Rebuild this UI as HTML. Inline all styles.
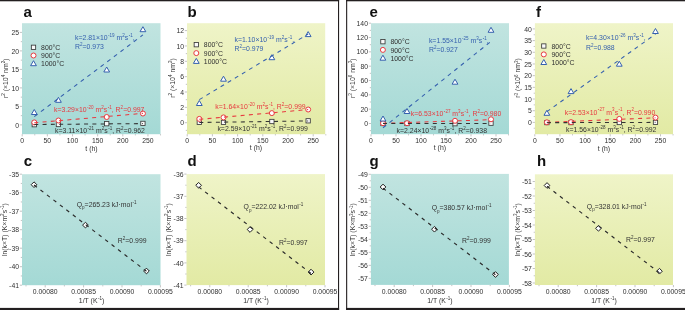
<!DOCTYPE html>
<html><head><meta charset="utf-8"><style>
html,body{margin:0;padding:0;background:#fff;}
svg{display:block;font-family:"Liberation Sans", sans-serif;will-change:transform;filter:blur(0.3px);}
</style></head><body>
<svg width="685" height="310" viewBox="0 0 685 310">
<defs></defs>
<linearGradient id="ga" x1="0" y1="0" x2="0" y2="1"><stop offset="0" stop-color="#c1e4e0"/><stop offset="1" stop-color="#a4d9d5"/></linearGradient>
<rect x="22" y="23.2" width="138.50" height="111.00" fill="url(#ga)"/>
<line x1="19.80" y1="124.90" x2="22.00" y2="124.90" stroke="#9a9a9a" stroke-width="0.6"/>
<text x="19.00" y="127.37" font-size="6.85" fill="#303030" text-anchor="end" transform="matrix(1 0 0 1.06 0 -7.494)">0</text>
<line x1="19.80" y1="106.40" x2="22.00" y2="106.40" stroke="#9a9a9a" stroke-width="0.6"/>
<text x="19.00" y="108.87" font-size="6.85" fill="#303030" text-anchor="end" transform="matrix(1 0 0 1.06 0 -6.384)">5</text>
<line x1="19.80" y1="87.90" x2="22.00" y2="87.90" stroke="#9a9a9a" stroke-width="0.6"/>
<text x="19.00" y="90.37" font-size="6.85" fill="#303030" text-anchor="end" transform="matrix(1 0 0 1.06 0 -5.274)">10</text>
<line x1="19.80" y1="69.40" x2="22.00" y2="69.40" stroke="#9a9a9a" stroke-width="0.6"/>
<text x="19.00" y="71.87" font-size="6.85" fill="#303030" text-anchor="end" transform="matrix(1 0 0 1.06 0 -4.164)">15</text>
<line x1="19.80" y1="50.90" x2="22.00" y2="50.90" stroke="#9a9a9a" stroke-width="0.6"/>
<text x="19.00" y="53.37" font-size="6.85" fill="#303030" text-anchor="end" transform="matrix(1 0 0 1.06 0 -3.054)">20</text>
<line x1="19.80" y1="32.40" x2="22.00" y2="32.40" stroke="#9a9a9a" stroke-width="0.6"/>
<text x="19.00" y="34.87" font-size="6.85" fill="#303030" text-anchor="end" transform="matrix(1 0 0 1.06 0 -1.944)">25</text>
<line x1="20.80" y1="115.65" x2="22.00" y2="115.65" stroke="#9a9a9a" stroke-width="0.6"/>
<line x1="20.80" y1="97.15" x2="22.00" y2="97.15" stroke="#9a9a9a" stroke-width="0.6"/>
<line x1="20.80" y1="78.65" x2="22.00" y2="78.65" stroke="#9a9a9a" stroke-width="0.6"/>
<line x1="20.80" y1="60.15" x2="22.00" y2="60.15" stroke="#9a9a9a" stroke-width="0.6"/>
<line x1="20.80" y1="41.65" x2="22.00" y2="41.65" stroke="#9a9a9a" stroke-width="0.6"/>
<line x1="22.20" y1="134.20" x2="22.20" y2="136.40" stroke="#9a9a9a" stroke-width="0.6"/>
<text x="22.20" y="143.20" font-size="6.85" fill="#303030" text-anchor="middle" transform="matrix(1 0 0 1.06 0 -8.444)">0</text>
<line x1="47.35" y1="134.20" x2="47.35" y2="136.40" stroke="#9a9a9a" stroke-width="0.6"/>
<text x="47.35" y="143.20" font-size="6.85" fill="#303030" text-anchor="middle" transform="matrix(1 0 0 1.06 0 -8.444)">50</text>
<line x1="72.50" y1="134.20" x2="72.50" y2="136.40" stroke="#9a9a9a" stroke-width="0.6"/>
<text x="72.50" y="143.20" font-size="6.85" fill="#303030" text-anchor="middle" transform="matrix(1 0 0 1.06 0 -8.444)">100</text>
<line x1="97.65" y1="134.20" x2="97.65" y2="136.40" stroke="#9a9a9a" stroke-width="0.6"/>
<text x="97.65" y="143.20" font-size="6.85" fill="#303030" text-anchor="middle" transform="matrix(1 0 0 1.06 0 -8.444)">150</text>
<line x1="122.80" y1="134.20" x2="122.80" y2="136.40" stroke="#9a9a9a" stroke-width="0.6"/>
<text x="122.80" y="143.20" font-size="6.85" fill="#303030" text-anchor="middle" transform="matrix(1 0 0 1.06 0 -8.444)">200</text>
<line x1="147.95" y1="134.20" x2="147.95" y2="136.40" stroke="#9a9a9a" stroke-width="0.6"/>
<text x="147.95" y="143.20" font-size="6.85" fill="#303030" text-anchor="middle" transform="matrix(1 0 0 1.06 0 -8.444)">250</text>
<line x1="34.77" y1="134.20" x2="34.77" y2="135.40" stroke="#9a9a9a" stroke-width="0.6"/>
<line x1="59.92" y1="134.20" x2="59.92" y2="135.40" stroke="#9a9a9a" stroke-width="0.6"/>
<line x1="85.08" y1="134.20" x2="85.08" y2="135.40" stroke="#9a9a9a" stroke-width="0.6"/>
<line x1="110.23" y1="134.20" x2="110.23" y2="135.40" stroke="#9a9a9a" stroke-width="0.6"/>
<line x1="135.38" y1="134.20" x2="135.38" y2="135.40" stroke="#9a9a9a" stroke-width="0.6"/>
<line x1="160.52" y1="134.20" x2="160.52" y2="135.40" stroke="#9a9a9a" stroke-width="0.6"/>
<text x="91.50" y="150.80" font-size="6.9" fill="#303030" text-anchor="middle" transform="matrix(1 0 0 1.06 0 -8.899)"><tspan dy="-0.00">t (h)</tspan></text>
<text x="0.00" y="0.00" font-size="6.9" fill="#303030" text-anchor="middle" transform="translate(7.60,78.30) rotate(-90)"><tspan dy="-0.00">r</tspan><tspan dy="-2.90" font-size="4.55">2</tspan><tspan dy="2.90"> (×10</tspan><tspan dy="-2.90" font-size="4.55">4</tspan><tspan dy="2.90"> nm</tspan><tspan dy="-2.90" font-size="4.55">2</tspan><tspan dy="2.90">)</tspan></text>
<text x="23.4" y="16.8" font-size="15.0" font-weight="bold" fill="#111">a</text>
<rect x="32.12" y="122.55" width="4.3" height="4.3" fill="#fafafa" stroke="#3a3a3a" stroke-width="0.85"/>
<rect x="56.27" y="122.35" width="4.3" height="4.3" fill="#fafafa" stroke="#3a3a3a" stroke-width="0.85"/>
<rect x="104.55" y="121.55" width="4.3" height="4.3" fill="#fafafa" stroke="#3a3a3a" stroke-width="0.85"/>
<rect x="140.77" y="121.25" width="4.3" height="4.3" fill="#fafafa" stroke="#3a3a3a" stroke-width="0.85"/>
<circle cx="34.27" cy="122.40" r="2.5" fill="#fff" stroke="#e8393f" stroke-width="1.0"/>
<circle cx="58.42" cy="120.50" r="2.5" fill="#fff" stroke="#e8393f" stroke-width="1.0"/>
<circle cx="106.70" cy="117.00" r="2.5" fill="#fff" stroke="#e8393f" stroke-width="1.0"/>
<circle cx="142.92" cy="113.50" r="2.5" fill="#fff" stroke="#e8393f" stroke-width="1.0"/>
<path d="M34.27 109.50 L37.17 114.50 L31.37 114.50 Z" fill="#fff" stroke="#3560ae" stroke-width="1.0" stroke-linejoin="miter"/>
<path d="M58.42 97.30 L61.32 102.30 L55.52 102.30 Z" fill="#fff" stroke="#3560ae" stroke-width="1.0" stroke-linejoin="miter"/>
<path d="M106.70 67.00 L109.60 72.00 L103.80 72.00 Z" fill="#fff" stroke="#3560ae" stroke-width="1.0" stroke-linejoin="miter"/>
<path d="M142.92 26.70 L145.82 31.70 L140.02 31.70 Z" fill="#fff" stroke="#3560ae" stroke-width="1.0" stroke-linejoin="miter"/>
<line x1="34.27" y1="122.82" x2="142.92" y2="113.36" stroke="#e8393f" stroke-width="1.05" stroke-dasharray="4 4.3" stroke-dashoffset="0"/>
<line x1="34.27" y1="124.50" x2="142.92" y2="123.60" stroke="#333333" stroke-width="1.05" stroke-dasharray="4 4.3" stroke-dashoffset="0"/>
<line x1="34.27" y1="116.61" x2="142.92" y2="34.90" stroke="#3560ae" stroke-width="1.05" stroke-dasharray="4 4.3" stroke-dashoffset="0"/>
<rect x="31.35" y="45.15" width="4.3" height="4.3" fill="#fafafa" stroke="#3a3a3a" stroke-width="0.85"/>
<circle cx="33.50" cy="55.50" r="2.5" fill="#fff" stroke="#e8393f" stroke-width="1.0"/>
<path d="M33.50 60.70 L36.40 65.70 L30.60 65.70 Z" fill="#fff" stroke="#3560ae" stroke-width="1.0" stroke-linejoin="miter"/>
<text x="41.1" y="49.80" font-size="6.9" fill="#303030" transform="matrix(1 0 0 1.06 0 -2.839)">800°C</text>
<text x="41.1" y="58.00" font-size="6.9" fill="#303030" transform="matrix(1 0 0 1.06 0 -3.331)">900°C</text>
<text x="41.1" y="66.10" font-size="6.9" fill="#303030" transform="matrix(1 0 0 1.06 0 -3.817)">1000°C</text>
<text x="75.00" y="39.80" font-size="6.9" fill="#3560ae" text-anchor="start" transform="matrix(1 0 0 1.06 0 -2.239)"><tspan dy="-0.00">k=2.81×10</tspan><tspan dy="-2.90" dx="0.45" font-size="4.55"><tspan font-weight="bold">-</tspan>19</tspan><tspan dy="2.90"> m</tspan><tspan dy="-2.90" font-size="4.55">2</tspan><tspan dy="2.90">s</tspan><tspan dy="-2.90" dx="0.45" font-size="4.55"><tspan font-weight="bold">-</tspan>1</tspan><tspan dy="2.90">,</tspan></text>
<text x="75.00" y="48.60" font-size="6.9" fill="#3560ae" text-anchor="start" transform="matrix(1 0 0 1.06 0 -2.767)"><tspan dy="-0.00">R</tspan><tspan dy="-2.90" font-size="4.55">2</tspan><tspan dy="2.90">=0.973</tspan></text>
<text x="54.00" y="111.50" font-size="6.9" fill="#e8393f" text-anchor="start" transform="matrix(1 0 0 1.06 0 -6.541)"><tspan dy="-0.00">k=3.29×10</tspan><tspan dy="-2.90" dx="0.45" font-size="4.55"><tspan font-weight="bold">-</tspan>20</tspan><tspan dy="2.90"> m</tspan><tspan dy="-2.90" font-size="4.55">2</tspan><tspan dy="2.90">s</tspan><tspan dy="-2.90" dx="0.45" font-size="4.55"><tspan font-weight="bold">-</tspan>1</tspan><tspan dy="2.90">, R</tspan><tspan dy="-2.90" font-size="4.55">2</tspan><tspan dy="2.90">=0.997</tspan></text>
<text x="55.00" y="132.50" font-size="6.9" fill="#333333" text-anchor="start" transform="matrix(1 0 0 1.06 0 -7.801)"><tspan dy="-0.00">k=3.11×10</tspan><tspan dy="-2.90" dx="0.45" font-size="4.55"><tspan font-weight="bold">-</tspan>21</tspan><tspan dy="2.90"> m</tspan><tspan dy="-2.90" font-size="4.55">2</tspan><tspan dy="2.90">s</tspan><tspan dy="-2.90" dx="0.45" font-size="4.55"><tspan font-weight="bold">-</tspan>1</tspan><tspan dy="2.90">, R</tspan><tspan dy="-2.90" font-size="4.55">2</tspan><tspan dy="2.90">=0.962</tspan></text>
<linearGradient id="gb" x1="0" y1="0" x2="0" y2="1"><stop offset="0" stop-color="#eff4c8"/><stop offset="1" stop-color="#e2eaa4"/></linearGradient>
<rect x="187" y="23.2" width="138.20" height="111.00" fill="url(#gb)"/>
<line x1="184.80" y1="122.70" x2="187.00" y2="122.70" stroke="#9a9a9a" stroke-width="0.6"/>
<text x="184.00" y="125.17" font-size="6.85" fill="#303030" text-anchor="end" transform="matrix(1 0 0 1.06 0 -7.362)">0</text>
<line x1="184.80" y1="107.35" x2="187.00" y2="107.35" stroke="#9a9a9a" stroke-width="0.6"/>
<text x="184.00" y="109.82" font-size="6.85" fill="#303030" text-anchor="end" transform="matrix(1 0 0 1.06 0 -6.441)">2</text>
<line x1="184.80" y1="92.00" x2="187.00" y2="92.00" stroke="#9a9a9a" stroke-width="0.6"/>
<text x="184.00" y="94.47" font-size="6.85" fill="#303030" text-anchor="end" transform="matrix(1 0 0 1.06 0 -5.520)">4</text>
<line x1="184.80" y1="76.65" x2="187.00" y2="76.65" stroke="#9a9a9a" stroke-width="0.6"/>
<text x="184.00" y="79.12" font-size="6.85" fill="#303030" text-anchor="end" transform="matrix(1 0 0 1.06 0 -4.599)">6</text>
<line x1="184.80" y1="61.30" x2="187.00" y2="61.30" stroke="#9a9a9a" stroke-width="0.6"/>
<text x="184.00" y="63.77" font-size="6.85" fill="#303030" text-anchor="end" transform="matrix(1 0 0 1.06 0 -3.678)">8</text>
<line x1="184.80" y1="45.95" x2="187.00" y2="45.95" stroke="#9a9a9a" stroke-width="0.6"/>
<text x="184.00" y="48.42" font-size="6.85" fill="#303030" text-anchor="end" transform="matrix(1 0 0 1.06 0 -2.757)">10</text>
<line x1="184.80" y1="30.60" x2="187.00" y2="30.60" stroke="#9a9a9a" stroke-width="0.6"/>
<text x="184.00" y="33.07" font-size="6.85" fill="#303030" text-anchor="end" transform="matrix(1 0 0 1.06 0 -1.836)">12</text>
<line x1="185.80" y1="130.38" x2="187.00" y2="130.38" stroke="#9a9a9a" stroke-width="0.6"/>
<line x1="185.80" y1="115.03" x2="187.00" y2="115.03" stroke="#9a9a9a" stroke-width="0.6"/>
<line x1="185.80" y1="99.68" x2="187.00" y2="99.68" stroke="#9a9a9a" stroke-width="0.6"/>
<line x1="185.80" y1="84.33" x2="187.00" y2="84.33" stroke="#9a9a9a" stroke-width="0.6"/>
<line x1="185.80" y1="68.97" x2="187.00" y2="68.97" stroke="#9a9a9a" stroke-width="0.6"/>
<line x1="185.80" y1="53.62" x2="187.00" y2="53.62" stroke="#9a9a9a" stroke-width="0.6"/>
<line x1="185.80" y1="38.28" x2="187.00" y2="38.28" stroke="#9a9a9a" stroke-width="0.6"/>
<line x1="187.20" y1="134.20" x2="187.20" y2="136.40" stroke="#9a9a9a" stroke-width="0.6"/>
<text x="187.20" y="143.20" font-size="6.85" fill="#303030" text-anchor="middle" transform="matrix(1 0 0 1.06 0 -8.444)">0</text>
<line x1="212.40" y1="134.20" x2="212.40" y2="136.40" stroke="#9a9a9a" stroke-width="0.6"/>
<text x="212.40" y="143.20" font-size="6.85" fill="#303030" text-anchor="middle" transform="matrix(1 0 0 1.06 0 -8.444)">50</text>
<line x1="237.60" y1="134.20" x2="237.60" y2="136.40" stroke="#9a9a9a" stroke-width="0.6"/>
<text x="237.60" y="143.20" font-size="6.85" fill="#303030" text-anchor="middle" transform="matrix(1 0 0 1.06 0 -8.444)">100</text>
<line x1="262.80" y1="134.20" x2="262.80" y2="136.40" stroke="#9a9a9a" stroke-width="0.6"/>
<text x="262.80" y="143.20" font-size="6.85" fill="#303030" text-anchor="middle" transform="matrix(1 0 0 1.06 0 -8.444)">150</text>
<line x1="288.00" y1="134.20" x2="288.00" y2="136.40" stroke="#9a9a9a" stroke-width="0.6"/>
<text x="288.00" y="143.20" font-size="6.85" fill="#303030" text-anchor="middle" transform="matrix(1 0 0 1.06 0 -8.444)">200</text>
<line x1="313.20" y1="134.20" x2="313.20" y2="136.40" stroke="#9a9a9a" stroke-width="0.6"/>
<text x="313.20" y="143.20" font-size="6.85" fill="#303030" text-anchor="middle" transform="matrix(1 0 0 1.06 0 -8.444)">250</text>
<line x1="199.80" y1="134.20" x2="199.80" y2="135.40" stroke="#9a9a9a" stroke-width="0.6"/>
<line x1="225.00" y1="134.20" x2="225.00" y2="135.40" stroke="#9a9a9a" stroke-width="0.6"/>
<line x1="250.20" y1="134.20" x2="250.20" y2="135.40" stroke="#9a9a9a" stroke-width="0.6"/>
<line x1="275.40" y1="134.20" x2="275.40" y2="135.40" stroke="#9a9a9a" stroke-width="0.6"/>
<line x1="300.60" y1="134.20" x2="300.60" y2="135.40" stroke="#9a9a9a" stroke-width="0.6"/>
<line x1="325.80" y1="134.20" x2="325.80" y2="135.40" stroke="#9a9a9a" stroke-width="0.6"/>
<text x="256.00" y="150.20" font-size="6.9" fill="#303030" text-anchor="middle" transform="matrix(1 0 0 1.06 0 -8.863)"><tspan dy="-0.00">t (h)</tspan></text>
<text x="0.00" y="0.00" font-size="6.9" fill="#303030" text-anchor="middle" transform="translate(174.90,78.00) rotate(-90)"><tspan dy="-0.00">r</tspan><tspan dy="-2.90" font-size="4.55">2</tspan><tspan dy="2.90"> (×10</tspan><tspan dy="-2.90" font-size="4.55">4</tspan><tspan dy="2.90"> nm</tspan><tspan dy="-2.90" font-size="4.55">2</tspan><tspan dy="2.90">)</tspan></text>
<text x="187.4" y="16.8" font-size="15.0" font-weight="bold" fill="#111">b</text>
<rect x="197.15" y="120.25" width="4.3" height="4.3" fill="#fafafa" stroke="#3a3a3a" stroke-width="0.85"/>
<rect x="221.34" y="120.25" width="4.3" height="4.3" fill="#fafafa" stroke="#3a3a3a" stroke-width="0.85"/>
<rect x="269.72" y="119.35" width="4.3" height="4.3" fill="#fafafa" stroke="#3a3a3a" stroke-width="0.85"/>
<rect x="306.01" y="118.65" width="4.3" height="4.3" fill="#fafafa" stroke="#3a3a3a" stroke-width="0.85"/>
<circle cx="199.30" cy="118.90" r="2.5" fill="#fff" stroke="#e8393f" stroke-width="1.0"/>
<circle cx="223.49" cy="117.40" r="2.5" fill="#fff" stroke="#e8393f" stroke-width="1.0"/>
<circle cx="271.87" cy="113.10" r="2.5" fill="#fff" stroke="#e8393f" stroke-width="1.0"/>
<circle cx="308.16" cy="109.50" r="2.5" fill="#fff" stroke="#e8393f" stroke-width="1.0"/>
<path d="M199.30 100.50 L202.20 105.50 L196.40 105.50 Z" fill="#fff" stroke="#3560ae" stroke-width="1.0" stroke-linejoin="miter"/>
<path d="M223.49 76.20 L226.39 81.20 L220.59 81.20 Z" fill="#fff" stroke="#3560ae" stroke-width="1.0" stroke-linejoin="miter"/>
<path d="M271.87 54.70 L274.77 59.70 L268.97 59.70 Z" fill="#fff" stroke="#3560ae" stroke-width="1.0" stroke-linejoin="miter"/>
<path d="M308.16 31.60 L311.06 36.60 L305.26 36.60 Z" fill="#fff" stroke="#3560ae" stroke-width="1.0" stroke-linejoin="miter"/>
<line x1="199.30" y1="119.35" x2="308.16" y2="109.56" stroke="#e8393f" stroke-width="1.05" stroke-dasharray="4 4.3" stroke-dashoffset="0"/>
<line x1="199.30" y1="122.50" x2="308.16" y2="120.96" stroke="#333333" stroke-width="1.05" stroke-dasharray="4 4.3" stroke-dashoffset="0"/>
<line x1="199.30" y1="99.65" x2="308.16" y2="34.00" stroke="#3560ae" stroke-width="1.05" stroke-dasharray="4 4.3" stroke-dashoffset="0"/>
<rect x="194.15" y="42.55" width="4.3" height="4.3" fill="#fafafa" stroke="#3a3a3a" stroke-width="0.85"/>
<circle cx="196.30" cy="53.10" r="2.5" fill="#fff" stroke="#e8393f" stroke-width="1.0"/>
<path d="M196.30 58.40 L199.20 63.40 L193.40 63.40 Z" fill="#fff" stroke="#3560ae" stroke-width="1.0" stroke-linejoin="miter"/>
<text x="203.8" y="47.20" font-size="6.9" fill="#303030" transform="matrix(1 0 0 1.06 0 -2.683)">800°C</text>
<text x="203.8" y="55.60" font-size="6.9" fill="#303030" transform="matrix(1 0 0 1.06 0 -3.187)">900°C</text>
<text x="203.8" y="63.80" font-size="6.9" fill="#303030" transform="matrix(1 0 0 1.06 0 -3.679)">1000°C</text>
<text x="234.50" y="41.80" font-size="6.9" fill="#3560ae" text-anchor="start" transform="matrix(1 0 0 1.06 0 -2.359)"><tspan dy="-0.00">k=1.10×10</tspan><tspan dy="-2.90" dx="0.45" font-size="4.55"><tspan font-weight="bold">-</tspan>19</tspan><tspan dy="2.90"> m</tspan><tspan dy="-2.90" font-size="4.55">2</tspan><tspan dy="2.90">s</tspan><tspan dy="-2.90" dx="0.45" font-size="4.55"><tspan font-weight="bold">-</tspan>1</tspan><tspan dy="2.90">,</tspan></text>
<text x="234.50" y="50.60" font-size="6.9" fill="#3560ae" text-anchor="start" transform="matrix(1 0 0 1.06 0 -2.887)"><tspan dy="-0.00">R</tspan><tspan dy="-2.90" font-size="4.55">2</tspan><tspan dy="2.90">=0.979</tspan></text>
<text x="215.20" y="108.60" font-size="6.9" fill="#e8393f" text-anchor="start" transform="matrix(1 0 0 1.06 0 -6.367)"><tspan dy="-0.00">k=1.64×10</tspan><tspan dy="-2.90" dx="0.45" font-size="4.55"><tspan font-weight="bold">-</tspan>20</tspan><tspan dy="2.90"> m</tspan><tspan dy="-2.90" font-size="4.55">2</tspan><tspan dy="2.90">s</tspan><tspan dy="-2.90" dx="0.45" font-size="4.55"><tspan font-weight="bold">-</tspan>1</tspan><tspan dy="2.90">, R</tspan><tspan dy="-2.90" font-size="4.55">2</tspan><tspan dy="2.90">=0.999</tspan></text>
<text x="217.40" y="131.20" font-size="6.9" fill="#333333" text-anchor="start" transform="matrix(1 0 0 1.06 0 -7.723)"><tspan dy="-0.00">k=2.59×10</tspan><tspan dy="-2.90" dx="0.45" font-size="4.55"><tspan font-weight="bold">-</tspan>21</tspan><tspan dy="2.90"> m</tspan><tspan dy="-2.90" font-size="4.55">2</tspan><tspan dy="2.90">s</tspan><tspan dy="-2.90" dx="0.45" font-size="4.55"><tspan font-weight="bold">-</tspan>1</tspan><tspan dy="2.90">, R</tspan><tspan dy="-2.90" font-size="4.55">2</tspan><tspan dy="2.90">=0.999</tspan></text>
<linearGradient id="ge" x1="0" y1="0" x2="0" y2="1"><stop offset="0" stop-color="#c1e4e0"/><stop offset="1" stop-color="#a4d9d5"/></linearGradient>
<rect x="371" y="23.2" width="138.00" height="111.00" fill="url(#ge)"/>
<line x1="368.80" y1="123.50" x2="371.00" y2="123.50" stroke="#9a9a9a" stroke-width="0.6"/>
<text x="368.00" y="125.97" font-size="6.85" fill="#303030" text-anchor="end" transform="matrix(1 0 0 1.06 0 -7.410)">0</text>
<line x1="368.80" y1="109.17" x2="371.00" y2="109.17" stroke="#9a9a9a" stroke-width="0.6"/>
<text x="368.00" y="111.64" font-size="6.85" fill="#303030" text-anchor="end" transform="matrix(1 0 0 1.06 0 -6.550)">20</text>
<line x1="368.80" y1="94.84" x2="371.00" y2="94.84" stroke="#9a9a9a" stroke-width="0.6"/>
<text x="368.00" y="97.31" font-size="6.85" fill="#303030" text-anchor="end" transform="matrix(1 0 0 1.06 0 -5.690)">40</text>
<line x1="368.80" y1="80.51" x2="371.00" y2="80.51" stroke="#9a9a9a" stroke-width="0.6"/>
<text x="368.00" y="82.98" font-size="6.85" fill="#303030" text-anchor="end" transform="matrix(1 0 0 1.06 0 -4.831)">60</text>
<line x1="368.80" y1="66.18" x2="371.00" y2="66.18" stroke="#9a9a9a" stroke-width="0.6"/>
<text x="368.00" y="68.65" font-size="6.85" fill="#303030" text-anchor="end" transform="matrix(1 0 0 1.06 0 -3.971)">80</text>
<line x1="368.80" y1="51.85" x2="371.00" y2="51.85" stroke="#9a9a9a" stroke-width="0.6"/>
<text x="368.00" y="54.32" font-size="6.85" fill="#303030" text-anchor="end" transform="matrix(1 0 0 1.06 0 -3.111)">100</text>
<line x1="368.80" y1="37.52" x2="371.00" y2="37.52" stroke="#9a9a9a" stroke-width="0.6"/>
<text x="368.00" y="39.99" font-size="6.85" fill="#303030" text-anchor="end" transform="matrix(1 0 0 1.06 0 -2.251)">120</text>
<line x1="368.80" y1="23.19" x2="371.00" y2="23.19" stroke="#9a9a9a" stroke-width="0.6"/>
<text x="368.00" y="25.66" font-size="6.85" fill="#303030" text-anchor="end" transform="matrix(1 0 0 1.06 0 -1.391)">140</text>
<line x1="369.80" y1="130.66" x2="371.00" y2="130.66" stroke="#9a9a9a" stroke-width="0.6"/>
<line x1="369.80" y1="116.33" x2="371.00" y2="116.33" stroke="#9a9a9a" stroke-width="0.6"/>
<line x1="369.80" y1="102.00" x2="371.00" y2="102.00" stroke="#9a9a9a" stroke-width="0.6"/>
<line x1="369.80" y1="87.67" x2="371.00" y2="87.67" stroke="#9a9a9a" stroke-width="0.6"/>
<line x1="369.80" y1="73.34" x2="371.00" y2="73.34" stroke="#9a9a9a" stroke-width="0.6"/>
<line x1="369.80" y1="59.02" x2="371.00" y2="59.02" stroke="#9a9a9a" stroke-width="0.6"/>
<line x1="369.80" y1="44.69" x2="371.00" y2="44.69" stroke="#9a9a9a" stroke-width="0.6"/>
<line x1="369.80" y1="30.35" x2="371.00" y2="30.35" stroke="#9a9a9a" stroke-width="0.6"/>
<line x1="371.00" y1="134.20" x2="371.00" y2="136.40" stroke="#9a9a9a" stroke-width="0.6"/>
<text x="371.00" y="143.20" font-size="6.85" fill="#303030" text-anchor="middle" transform="matrix(1 0 0 1.06 0 -8.444)">0</text>
<line x1="396.00" y1="134.20" x2="396.00" y2="136.40" stroke="#9a9a9a" stroke-width="0.6"/>
<text x="396.00" y="143.20" font-size="6.85" fill="#303030" text-anchor="middle" transform="matrix(1 0 0 1.06 0 -8.444)">50</text>
<line x1="421.00" y1="134.20" x2="421.00" y2="136.40" stroke="#9a9a9a" stroke-width="0.6"/>
<text x="421.00" y="143.20" font-size="6.85" fill="#303030" text-anchor="middle" transform="matrix(1 0 0 1.06 0 -8.444)">100</text>
<line x1="446.00" y1="134.20" x2="446.00" y2="136.40" stroke="#9a9a9a" stroke-width="0.6"/>
<text x="446.00" y="143.20" font-size="6.85" fill="#303030" text-anchor="middle" transform="matrix(1 0 0 1.06 0 -8.444)">150</text>
<line x1="471.00" y1="134.20" x2="471.00" y2="136.40" stroke="#9a9a9a" stroke-width="0.6"/>
<text x="471.00" y="143.20" font-size="6.85" fill="#303030" text-anchor="middle" transform="matrix(1 0 0 1.06 0 -8.444)">200</text>
<line x1="496.00" y1="134.20" x2="496.00" y2="136.40" stroke="#9a9a9a" stroke-width="0.6"/>
<text x="496.00" y="143.20" font-size="6.85" fill="#303030" text-anchor="middle" transform="matrix(1 0 0 1.06 0 -8.444)">250</text>
<line x1="383.50" y1="134.20" x2="383.50" y2="135.40" stroke="#9a9a9a" stroke-width="0.6"/>
<line x1="408.50" y1="134.20" x2="408.50" y2="135.40" stroke="#9a9a9a" stroke-width="0.6"/>
<line x1="433.50" y1="134.20" x2="433.50" y2="135.40" stroke="#9a9a9a" stroke-width="0.6"/>
<line x1="458.50" y1="134.20" x2="458.50" y2="135.40" stroke="#9a9a9a" stroke-width="0.6"/>
<line x1="483.50" y1="134.20" x2="483.50" y2="135.40" stroke="#9a9a9a" stroke-width="0.6"/>
<line x1="508.50" y1="134.20" x2="508.50" y2="135.40" stroke="#9a9a9a" stroke-width="0.6"/>
<text x="439.90" y="150.00" font-size="6.9" fill="#303030" text-anchor="middle" transform="matrix(1 0 0 1.06 0 -8.851)"><tspan dy="-0.00">t (h)</tspan></text>
<text x="0.00" y="0.00" font-size="6.9" fill="#303030" text-anchor="middle" transform="translate(354.80,78.20) rotate(-90)"><tspan dy="-0.00">r</tspan><tspan dy="-2.90" font-size="4.55">3</tspan><tspan dy="2.90"> (×10</tspan><tspan dy="-2.90" font-size="4.55">6</tspan><tspan dy="2.90"> nm</tspan><tspan dy="-2.90" font-size="4.55">3</tspan><tspan dy="2.90">)</tspan></text>
<text x="369.4" y="17.0" font-size="15.0" font-weight="bold" fill="#111">e</text>
<rect x="380.85" y="121.35" width="4.3" height="4.3" fill="#fafafa" stroke="#3a3a3a" stroke-width="0.85"/>
<rect x="404.85" y="121.35" width="4.3" height="4.3" fill="#fafafa" stroke="#3a3a3a" stroke-width="0.85"/>
<rect x="452.85" y="121.55" width="4.3" height="4.3" fill="#fafafa" stroke="#3a3a3a" stroke-width="0.85"/>
<rect x="488.85" y="121.05" width="4.3" height="4.3" fill="#fafafa" stroke="#3a3a3a" stroke-width="0.85"/>
<circle cx="383.00" cy="123.20" r="2.5" fill="#fff" stroke="#e8393f" stroke-width="1.0"/>
<circle cx="407.00" cy="123.20" r="2.5" fill="#fff" stroke="#e8393f" stroke-width="1.0"/>
<circle cx="455.00" cy="120.80" r="2.5" fill="#fff" stroke="#e8393f" stroke-width="1.0"/>
<circle cx="491.00" cy="119.30" r="2.5" fill="#fff" stroke="#e8393f" stroke-width="1.0"/>
<path d="M383.00 116.00 L385.90 121.00 L380.10 121.00 Z" fill="#fff" stroke="#3560ae" stroke-width="1.0" stroke-linejoin="miter"/>
<path d="M407.00 108.50 L409.90 113.50 L404.10 113.50 Z" fill="#fff" stroke="#3560ae" stroke-width="1.0" stroke-linejoin="miter"/>
<path d="M455.00 79.20 L457.90 84.20 L452.10 84.20 Z" fill="#fff" stroke="#3560ae" stroke-width="1.0" stroke-linejoin="miter"/>
<path d="M491.00 27.30 L493.90 32.30 L488.10 32.30 Z" fill="#fff" stroke="#3560ae" stroke-width="1.0" stroke-linejoin="miter"/>
<line x1="383.00" y1="123.34" x2="491.00" y2="119.70" stroke="#e8393f" stroke-width="1.05" stroke-dasharray="4 4.3" stroke-dashoffset="0"/>
<line x1="383.00" y1="123.53" x2="491.00" y2="123.41" stroke="#333333" stroke-width="1.05" stroke-dasharray="4 4.3" stroke-dashoffset="0"/>
<line x1="383.00" y1="127.75" x2="491.00" y2="41.35" stroke="#3560ae" stroke-width="1.05" stroke-dasharray="4 4.3" stroke-dashoffset="0"/>
<rect x="380.75" y="39.55" width="4.3" height="4.3" fill="#fafafa" stroke="#3a3a3a" stroke-width="0.85"/>
<circle cx="382.90" cy="49.90" r="2.5" fill="#fff" stroke="#e8393f" stroke-width="1.0"/>
<path d="M382.90 55.20 L385.80 60.20 L380.00 60.20 Z" fill="#fff" stroke="#3560ae" stroke-width="1.0" stroke-linejoin="miter"/>
<text x="390.4" y="44.20" font-size="6.9" fill="#303030" transform="matrix(1 0 0 1.06 0 -2.503)">800°C</text>
<text x="390.4" y="52.40" font-size="6.9" fill="#303030" transform="matrix(1 0 0 1.06 0 -2.995)">900°C</text>
<text x="390.4" y="60.60" font-size="6.9" fill="#303030" transform="matrix(1 0 0 1.06 0 -3.487)">1000°C</text>
<text x="428.90" y="43.00" font-size="6.9" fill="#3560ae" text-anchor="start" transform="matrix(1 0 0 1.06 0 -2.431)"><tspan dy="-0.00">k=1.55×10</tspan><tspan dy="-2.90" dx="0.45" font-size="4.55"><tspan font-weight="bold">-</tspan>25</tspan><tspan dy="2.90"> m</tspan><tspan dy="-2.90" font-size="4.55">3</tspan><tspan dy="2.90">s</tspan><tspan dy="-2.90" dx="0.45" font-size="4.55"><tspan font-weight="bold">-</tspan>1</tspan><tspan dy="2.90">,</tspan></text>
<text x="428.90" y="51.60" font-size="6.9" fill="#3560ae" text-anchor="start" transform="matrix(1 0 0 1.06 0 -2.947)"><tspan dy="-0.00">R</tspan><tspan dy="-2.90" font-size="4.55">2</tspan><tspan dy="2.90">=0.927</tspan></text>
<text x="410.80" y="116.30" font-size="6.9" fill="#e8393f" text-anchor="start" transform="matrix(1 0 0 1.06 0 -6.829)"><tspan dy="-0.00">k=6.53×10</tspan><tspan dy="-2.90" dx="0.45" font-size="4.55"><tspan font-weight="bold">-</tspan>27</tspan><tspan dy="2.90"> m</tspan><tspan dy="-2.90" font-size="4.55">3</tspan><tspan dy="2.90">s</tspan><tspan dy="-2.90" dx="0.45" font-size="4.55"><tspan font-weight="bold">-</tspan>1</tspan><tspan dy="2.90">, R</tspan><tspan dy="-2.90" font-size="4.55">2</tspan><tspan dy="2.90">=0.980</tspan></text>
<text x="396.60" y="132.50" font-size="6.9" fill="#333333" text-anchor="start" transform="matrix(1 0 0 1.06 0 -7.801)"><tspan dy="-0.00">k=2.24×10</tspan><tspan dy="-2.90" dx="0.45" font-size="4.55"><tspan font-weight="bold">-</tspan>28</tspan><tspan dy="2.90"> m</tspan><tspan dy="-2.90" font-size="4.55">3</tspan><tspan dy="2.90">s</tspan><tspan dy="-2.90" dx="0.45" font-size="4.55"><tspan font-weight="bold">-</tspan>1</tspan><tspan dy="2.90">, R</tspan><tspan dy="-2.90" font-size="4.55">2</tspan><tspan dy="2.90">=0.938</tspan></text>
<linearGradient id="gf" x1="0" y1="0" x2="0" y2="1"><stop offset="0" stop-color="#eff4c8"/><stop offset="1" stop-color="#e2eaa4"/></linearGradient>
<rect x="534.9" y="23.2" width="138.10" height="111.00" fill="url(#gf)"/>
<line x1="532.70" y1="122.40" x2="534.90" y2="122.40" stroke="#9a9a9a" stroke-width="0.6"/>
<text x="531.90" y="124.87" font-size="6.85" fill="#303030" text-anchor="end" transform="matrix(1 0 0 1.06 0 -7.344)">0</text>
<line x1="532.70" y1="110.72" x2="534.90" y2="110.72" stroke="#9a9a9a" stroke-width="0.6"/>
<text x="531.90" y="113.18" font-size="6.85" fill="#303030" text-anchor="end" transform="matrix(1 0 0 1.06 0 -6.643)">5</text>
<line x1="532.70" y1="99.03" x2="534.90" y2="99.03" stroke="#9a9a9a" stroke-width="0.6"/>
<text x="531.90" y="101.50" font-size="6.85" fill="#303030" text-anchor="end" transform="matrix(1 0 0 1.06 0 -5.942)">10</text>
<line x1="532.70" y1="87.34" x2="534.90" y2="87.34" stroke="#9a9a9a" stroke-width="0.6"/>
<text x="531.90" y="89.81" font-size="6.85" fill="#303030" text-anchor="end" transform="matrix(1 0 0 1.06 0 -5.241)">15</text>
<line x1="532.70" y1="75.66" x2="534.90" y2="75.66" stroke="#9a9a9a" stroke-width="0.6"/>
<text x="531.90" y="78.13" font-size="6.85" fill="#303030" text-anchor="end" transform="matrix(1 0 0 1.06 0 -4.540)">20</text>
<line x1="532.70" y1="63.98" x2="534.90" y2="63.98" stroke="#9a9a9a" stroke-width="0.6"/>
<text x="531.90" y="66.44" font-size="6.85" fill="#303030" text-anchor="end" transform="matrix(1 0 0 1.06 0 -3.839)">25</text>
<line x1="532.70" y1="52.29" x2="534.90" y2="52.29" stroke="#9a9a9a" stroke-width="0.6"/>
<text x="531.90" y="54.76" font-size="6.85" fill="#303030" text-anchor="end" transform="matrix(1 0 0 1.06 0 -3.137)">30</text>
<line x1="532.70" y1="40.61" x2="534.90" y2="40.61" stroke="#9a9a9a" stroke-width="0.6"/>
<text x="531.90" y="43.07" font-size="6.85" fill="#303030" text-anchor="end" transform="matrix(1 0 0 1.06 0 -2.436)">35</text>
<line x1="532.70" y1="28.92" x2="534.90" y2="28.92" stroke="#9a9a9a" stroke-width="0.6"/>
<text x="531.90" y="31.39" font-size="6.85" fill="#303030" text-anchor="end" transform="matrix(1 0 0 1.06 0 -1.735)">40</text>
<line x1="533.70" y1="128.24" x2="534.90" y2="128.24" stroke="#9a9a9a" stroke-width="0.6"/>
<line x1="533.70" y1="116.56" x2="534.90" y2="116.56" stroke="#9a9a9a" stroke-width="0.6"/>
<line x1="533.70" y1="104.87" x2="534.90" y2="104.87" stroke="#9a9a9a" stroke-width="0.6"/>
<line x1="533.70" y1="93.19" x2="534.90" y2="93.19" stroke="#9a9a9a" stroke-width="0.6"/>
<line x1="533.70" y1="81.50" x2="534.90" y2="81.50" stroke="#9a9a9a" stroke-width="0.6"/>
<line x1="533.70" y1="69.82" x2="534.90" y2="69.82" stroke="#9a9a9a" stroke-width="0.6"/>
<line x1="533.70" y1="58.13" x2="534.90" y2="58.13" stroke="#9a9a9a" stroke-width="0.6"/>
<line x1="533.70" y1="46.45" x2="534.90" y2="46.45" stroke="#9a9a9a" stroke-width="0.6"/>
<line x1="533.70" y1="34.76" x2="534.90" y2="34.76" stroke="#9a9a9a" stroke-width="0.6"/>
<line x1="534.80" y1="134.20" x2="534.80" y2="136.40" stroke="#9a9a9a" stroke-width="0.6"/>
<text x="534.80" y="143.20" font-size="6.85" fill="#303030" text-anchor="middle" transform="matrix(1 0 0 1.06 0 -8.444)">0</text>
<line x1="559.94" y1="134.20" x2="559.94" y2="136.40" stroke="#9a9a9a" stroke-width="0.6"/>
<text x="559.94" y="143.20" font-size="6.85" fill="#303030" text-anchor="middle" transform="matrix(1 0 0 1.06 0 -8.444)">50</text>
<line x1="585.08" y1="134.20" x2="585.08" y2="136.40" stroke="#9a9a9a" stroke-width="0.6"/>
<text x="585.08" y="143.20" font-size="6.85" fill="#303030" text-anchor="middle" transform="matrix(1 0 0 1.06 0 -8.444)">100</text>
<line x1="610.22" y1="134.20" x2="610.22" y2="136.40" stroke="#9a9a9a" stroke-width="0.6"/>
<text x="610.22" y="143.20" font-size="6.85" fill="#303030" text-anchor="middle" transform="matrix(1 0 0 1.06 0 -8.444)">150</text>
<line x1="635.36" y1="134.20" x2="635.36" y2="136.40" stroke="#9a9a9a" stroke-width="0.6"/>
<text x="635.36" y="143.20" font-size="6.85" fill="#303030" text-anchor="middle" transform="matrix(1 0 0 1.06 0 -8.444)">200</text>
<line x1="660.50" y1="134.20" x2="660.50" y2="136.40" stroke="#9a9a9a" stroke-width="0.6"/>
<text x="660.50" y="143.20" font-size="6.85" fill="#303030" text-anchor="middle" transform="matrix(1 0 0 1.06 0 -8.444)">250</text>
<line x1="547.37" y1="134.20" x2="547.37" y2="135.40" stroke="#9a9a9a" stroke-width="0.6"/>
<line x1="572.51" y1="134.20" x2="572.51" y2="135.40" stroke="#9a9a9a" stroke-width="0.6"/>
<line x1="597.65" y1="134.20" x2="597.65" y2="135.40" stroke="#9a9a9a" stroke-width="0.6"/>
<line x1="622.79" y1="134.20" x2="622.79" y2="135.40" stroke="#9a9a9a" stroke-width="0.6"/>
<line x1="647.93" y1="134.20" x2="647.93" y2="135.40" stroke="#9a9a9a" stroke-width="0.6"/>
<line x1="673.07" y1="134.20" x2="673.07" y2="135.40" stroke="#9a9a9a" stroke-width="0.6"/>
<text x="604.00" y="150.80" font-size="6.9" fill="#303030" text-anchor="middle" transform="matrix(1 0 0 1.06 0 -8.899)"><tspan dy="-0.00">t (h)</tspan></text>
<text x="0.00" y="0.00" font-size="6.9" fill="#303030" text-anchor="middle" transform="translate(520.40,78.00) rotate(-90)"><tspan dy="-0.00">r</tspan><tspan dy="-2.90" font-size="4.55">3</tspan><tspan dy="2.90"> (×10</tspan><tspan dy="-2.90" font-size="4.55">6</tspan><tspan dy="2.90"> nm</tspan><tspan dy="-2.90" font-size="4.55">3</tspan><tspan dy="2.90">)</tspan></text>
<text x="536.0" y="16.9" font-size="15.0" font-weight="bold" fill="#111">f</text>
<rect x="544.72" y="120.45" width="4.3" height="4.3" fill="#fafafa" stroke="#3a3a3a" stroke-width="0.85"/>
<rect x="568.85" y="120.45" width="4.3" height="4.3" fill="#fafafa" stroke="#3a3a3a" stroke-width="0.85"/>
<rect x="617.12" y="120.35" width="4.3" height="4.3" fill="#fafafa" stroke="#3a3a3a" stroke-width="0.85"/>
<rect x="653.32" y="120.25" width="4.3" height="4.3" fill="#fafafa" stroke="#3a3a3a" stroke-width="0.85"/>
<circle cx="546.87" cy="122.30" r="2.5" fill="#fff" stroke="#e8393f" stroke-width="1.0"/>
<circle cx="571.00" cy="122.10" r="2.5" fill="#fff" stroke="#e8393f" stroke-width="1.0"/>
<circle cx="619.27" cy="118.90" r="2.5" fill="#fff" stroke="#e8393f" stroke-width="1.0"/>
<circle cx="655.47" cy="117.60" r="2.5" fill="#fff" stroke="#e8393f" stroke-width="1.0"/>
<path d="M546.87 110.30 L549.77 115.30 L543.97 115.30 Z" fill="#fff" stroke="#3560ae" stroke-width="1.0" stroke-linejoin="miter"/>
<path d="M571.00 88.60 L573.90 93.60 L568.10 93.60 Z" fill="#fff" stroke="#3560ae" stroke-width="1.0" stroke-linejoin="miter"/>
<path d="M619.27 61.20 L622.17 66.20 L616.37 66.20 Z" fill="#fff" stroke="#3560ae" stroke-width="1.0" stroke-linejoin="miter"/>
<path d="M655.47 28.50 L658.37 33.50 L652.57 33.50 Z" fill="#fff" stroke="#3560ae" stroke-width="1.0" stroke-linejoin="miter"/>
<line x1="546.87" y1="122.38" x2="655.47" y2="117.82" stroke="#e8393f" stroke-width="1.05" stroke-dasharray="4 4.3" stroke-dashoffset="0"/>
<line x1="546.87" y1="122.66" x2="655.47" y2="122.38" stroke="#333333" stroke-width="1.05" stroke-dasharray="4 4.3" stroke-dashoffset="0"/>
<line x1="546.87" y1="111.67" x2="655.47" y2="34.12" stroke="#3560ae" stroke-width="1.05" stroke-dasharray="4 4.3" stroke-dashoffset="0"/>
<rect x="541.65" y="43.85" width="4.3" height="4.3" fill="#fafafa" stroke="#3a3a3a" stroke-width="0.85"/>
<circle cx="543.80" cy="54.40" r="2.5" fill="#fff" stroke="#e8393f" stroke-width="1.0"/>
<path d="M543.80 59.50 L546.70 64.50 L540.90 64.50 Z" fill="#fff" stroke="#3560ae" stroke-width="1.0" stroke-linejoin="miter"/>
<text x="551.5" y="48.50" font-size="6.9" fill="#303030" transform="matrix(1 0 0 1.06 0 -2.761)">800°C</text>
<text x="551.5" y="56.90" font-size="6.9" fill="#303030" transform="matrix(1 0 0 1.06 0 -3.265)">900°C</text>
<text x="551.5" y="64.90" font-size="6.9" fill="#303030" transform="matrix(1 0 0 1.06 0 -3.745)">1000°C</text>
<text x="585.90" y="40.10" font-size="6.9" fill="#3560ae" text-anchor="start" transform="matrix(1 0 0 1.06 0 -2.257)"><tspan dy="-0.00">k=4.30×10</tspan><tspan dy="-2.90" dx="0.45" font-size="4.55"><tspan font-weight="bold">-</tspan>26</tspan><tspan dy="2.90"> m</tspan><tspan dy="-2.90" font-size="4.55">3</tspan><tspan dy="2.90">s</tspan><tspan dy="-2.90" dx="0.45" font-size="4.55"><tspan font-weight="bold">-</tspan>1</tspan><tspan dy="2.90">,</tspan></text>
<text x="585.90" y="49.50" font-size="6.9" fill="#3560ae" text-anchor="start" transform="matrix(1 0 0 1.06 0 -2.821)"><tspan dy="-0.00">R</tspan><tspan dy="-2.90" font-size="4.55">2</tspan><tspan dy="2.90">=0.988</tspan></text>
<text x="564.80" y="114.40" font-size="6.9" fill="#e8393f" text-anchor="start" transform="matrix(1 0 0 1.06 0 -6.715)"><tspan dy="-0.00">k=2.53×10</tspan><tspan dy="-2.90" dx="0.45" font-size="4.55"><tspan font-weight="bold">-</tspan>27</tspan><tspan dy="2.90"> m</tspan><tspan dy="-2.90" font-size="4.55">3</tspan><tspan dy="2.90">s</tspan><tspan dy="-2.90" dx="0.45" font-size="4.55"><tspan font-weight="bold">-</tspan>1</tspan><tspan dy="2.90">, R</tspan><tspan dy="-2.90" font-size="4.55">2</tspan><tspan dy="2.90">=0.990</tspan></text>
<text x="566.00" y="131.80" font-size="6.9" fill="#333333" text-anchor="start" transform="matrix(1 0 0 1.06 0 -7.759)"><tspan dy="-0.00">k=1.56×10</tspan><tspan dy="-2.90" dx="0.45" font-size="4.55"><tspan font-weight="bold">-</tspan>28</tspan><tspan dy="2.90"> m</tspan><tspan dy="-2.90" font-size="4.55">3</tspan><tspan dy="2.90">s</tspan><tspan dy="-2.90" dx="0.45" font-size="4.55"><tspan font-weight="bold">-</tspan>1</tspan><tspan dy="2.90">, R</tspan><tspan dy="-2.90" font-size="4.55">2</tspan><tspan dy="2.90">=0.992</tspan></text>
<linearGradient id="gc" x1="0" y1="0" x2="0" y2="1"><stop offset="0" stop-color="#c1e4e0"/><stop offset="1" stop-color="#a4d9d5"/></linearGradient>
<rect x="22" y="174.2" width="138.50" height="111.00" fill="url(#gc)"/>
<line x1="19.80" y1="174.20" x2="22.00" y2="174.20" stroke="#9a9a9a" stroke-width="0.6"/>
<text x="19.00" y="176.67" font-size="6.85" fill="#303030" text-anchor="end" transform="matrix(1 0 0 1.06 0 -10.452)">-35</text>
<line x1="19.80" y1="192.70" x2="22.00" y2="192.70" stroke="#9a9a9a" stroke-width="0.6"/>
<text x="19.00" y="195.17" font-size="6.85" fill="#303030" text-anchor="end" transform="matrix(1 0 0 1.06 0 -11.562)">-36</text>
<line x1="19.80" y1="211.20" x2="22.00" y2="211.20" stroke="#9a9a9a" stroke-width="0.6"/>
<text x="19.00" y="213.67" font-size="6.85" fill="#303030" text-anchor="end" transform="matrix(1 0 0 1.06 0 -12.672)">-37</text>
<line x1="19.80" y1="229.70" x2="22.00" y2="229.70" stroke="#9a9a9a" stroke-width="0.6"/>
<text x="19.00" y="232.17" font-size="6.85" fill="#303030" text-anchor="end" transform="matrix(1 0 0 1.06 0 -13.782)">-38</text>
<line x1="19.80" y1="248.20" x2="22.00" y2="248.20" stroke="#9a9a9a" stroke-width="0.6"/>
<text x="19.00" y="250.67" font-size="6.85" fill="#303030" text-anchor="end" transform="matrix(1 0 0 1.06 0 -14.892)">-39</text>
<line x1="19.80" y1="266.70" x2="22.00" y2="266.70" stroke="#9a9a9a" stroke-width="0.6"/>
<text x="19.00" y="269.17" font-size="6.85" fill="#303030" text-anchor="end" transform="matrix(1 0 0 1.06 0 -16.002)">-40</text>
<line x1="19.80" y1="285.20" x2="22.00" y2="285.20" stroke="#9a9a9a" stroke-width="0.6"/>
<text x="19.00" y="287.67" font-size="6.85" fill="#303030" text-anchor="end" transform="matrix(1 0 0 1.06 0 -17.112)">-41</text>
<line x1="20.80" y1="183.45" x2="22.00" y2="183.45" stroke="#9a9a9a" stroke-width="0.6"/>
<line x1="20.80" y1="201.95" x2="22.00" y2="201.95" stroke="#9a9a9a" stroke-width="0.6"/>
<line x1="20.80" y1="220.45" x2="22.00" y2="220.45" stroke="#9a9a9a" stroke-width="0.6"/>
<line x1="20.80" y1="238.95" x2="22.00" y2="238.95" stroke="#9a9a9a" stroke-width="0.6"/>
<line x1="20.80" y1="257.45" x2="22.00" y2="257.45" stroke="#9a9a9a" stroke-width="0.6"/>
<line x1="20.80" y1="275.95" x2="22.00" y2="275.95" stroke="#9a9a9a" stroke-width="0.6"/>
<line x1="45.20" y1="285.20" x2="45.20" y2="287.40" stroke="#9a9a9a" stroke-width="0.6"/>
<text x="45.20" y="294.30" font-size="6.85" fill="#303030" text-anchor="middle" transform="matrix(1 0 0 1.06 0 -17.510)">0.00080</text>
<line x1="83.60" y1="285.20" x2="83.60" y2="287.40" stroke="#9a9a9a" stroke-width="0.6"/>
<text x="83.60" y="294.30" font-size="6.85" fill="#303030" text-anchor="middle" transform="matrix(1 0 0 1.06 0 -17.510)">0.00085</text>
<line x1="122.00" y1="285.20" x2="122.00" y2="287.40" stroke="#9a9a9a" stroke-width="0.6"/>
<text x="122.00" y="294.30" font-size="6.85" fill="#303030" text-anchor="middle" transform="matrix(1 0 0 1.06 0 -17.510)">0.00090</text>
<line x1="160.40" y1="285.20" x2="160.40" y2="287.40" stroke="#9a9a9a" stroke-width="0.6"/>
<text x="160.40" y="294.30" font-size="6.85" fill="#303030" text-anchor="middle" transform="matrix(1 0 0 1.06 0 -17.510)">0.00095</text>
<line x1="26.00" y1="285.20" x2="26.00" y2="286.40" stroke="#9a9a9a" stroke-width="0.6"/>
<line x1="64.40" y1="285.20" x2="64.40" y2="286.40" stroke="#9a9a9a" stroke-width="0.6"/>
<line x1="102.80" y1="285.20" x2="102.80" y2="286.40" stroke="#9a9a9a" stroke-width="0.6"/>
<line x1="141.20" y1="285.20" x2="141.20" y2="286.40" stroke="#9a9a9a" stroke-width="0.6"/>
<text x="91.60" y="302.70" font-size="6.9" fill="#303030" text-anchor="middle" transform="matrix(1 0 0 1.06 0 -18.013)"><tspan dy="-0.00">1/T (K</tspan><tspan dy="-2.90" dx="0.45" font-size="4.55"><tspan font-weight="bold">-</tspan>1</tspan><tspan dy="2.90">)</tspan></text>
<text x="0.00" y="0.00" font-size="6.9" fill="#303030" text-anchor="middle" transform="translate(6.60,229.60) rotate(-90)"><tspan dy="-0.00">ln(k×T) (K×m</tspan><tspan dy="-2.90" font-size="4.55">2</tspan><tspan dy="2.90">s</tspan><tspan dy="-2.90" dx="0.45" font-size="4.55"><tspan font-weight="bold">-</tspan>1</tspan><tspan dy="2.90">)</tspan></text>
<text x="23.8" y="166.0" font-size="15.0" font-weight="bold" fill="#111">c</text>
<path d="M34.03 181.85 L36.88 184.70 L34.03 187.55 L31.18 184.70 Z" fill="#fff" stroke="#1e1e1e" stroke-width="1.0"/>
<path d="M85.45 222.25 L88.30 225.10 L85.45 227.95 L82.60 225.10 Z" fill="#fff" stroke="#1e1e1e" stroke-width="1.0"/>
<path d="M146.45 268.15 L149.30 271.00 L146.45 273.85 L143.60 271.00 Z" fill="#fff" stroke="#1e1e1e" stroke-width="1.0"/>
<line x1="34.03" y1="184.99" x2="146.45" y2="271.33" stroke="#2a2a2a" stroke-width="1.15" stroke-dasharray="3.6 4.55" stroke-dashoffset="0"/>
<text x="76.70" y="206.50" font-size="6.9" fill="#333333" text-anchor="start" transform="matrix(1 0 0 1.06 0 -12.241)"><tspan dy="-0.00">Q</tspan><tspan dy="2.48" font-size="4.55">p</tspan><tspan dy="-2.48">=265.23 kJ·mol</tspan><tspan dy="-2.90" dx="0.45" font-size="4.55"><tspan font-weight="bold">-</tspan>1</tspan></text>
<text x="117.80" y="242.50" font-size="6.9" fill="#333333" text-anchor="start" transform="matrix(1 0 0 1.06 0 -14.401)"><tspan dy="-0.00">R</tspan><tspan dy="-2.90" font-size="4.55">2</tspan><tspan dy="2.90">=0.999</tspan></text>
<linearGradient id="gd" x1="0" y1="0" x2="0" y2="1"><stop offset="0" stop-color="#eff4c8"/><stop offset="1" stop-color="#e2eaa4"/></linearGradient>
<rect x="186.5" y="174.1" width="138.50" height="111.00" fill="url(#gd)"/>
<line x1="184.30" y1="174.10" x2="186.50" y2="174.10" stroke="#9a9a9a" stroke-width="0.6"/>
<text x="183.50" y="176.57" font-size="6.85" fill="#303030" text-anchor="end" transform="matrix(1 0 0 1.06 0 -10.446)">-36</text>
<line x1="184.30" y1="196.30" x2="186.50" y2="196.30" stroke="#9a9a9a" stroke-width="0.6"/>
<text x="183.50" y="198.77" font-size="6.85" fill="#303030" text-anchor="end" transform="matrix(1 0 0 1.06 0 -11.778)">-37</text>
<line x1="184.30" y1="218.50" x2="186.50" y2="218.50" stroke="#9a9a9a" stroke-width="0.6"/>
<text x="183.50" y="220.97" font-size="6.85" fill="#303030" text-anchor="end" transform="matrix(1 0 0 1.06 0 -13.110)">-38</text>
<line x1="184.30" y1="240.70" x2="186.50" y2="240.70" stroke="#9a9a9a" stroke-width="0.6"/>
<text x="183.50" y="243.17" font-size="6.85" fill="#303030" text-anchor="end" transform="matrix(1 0 0 1.06 0 -14.442)">-39</text>
<line x1="184.30" y1="262.90" x2="186.50" y2="262.90" stroke="#9a9a9a" stroke-width="0.6"/>
<text x="183.50" y="265.37" font-size="6.85" fill="#303030" text-anchor="end" transform="matrix(1 0 0 1.06 0 -15.774)">-40</text>
<line x1="184.30" y1="285.10" x2="186.50" y2="285.10" stroke="#9a9a9a" stroke-width="0.6"/>
<text x="183.50" y="287.57" font-size="6.85" fill="#303030" text-anchor="end" transform="matrix(1 0 0 1.06 0 -17.106)">-41</text>
<line x1="185.30" y1="185.20" x2="186.50" y2="185.20" stroke="#9a9a9a" stroke-width="0.6"/>
<line x1="185.30" y1="207.40" x2="186.50" y2="207.40" stroke="#9a9a9a" stroke-width="0.6"/>
<line x1="185.30" y1="229.60" x2="186.50" y2="229.60" stroke="#9a9a9a" stroke-width="0.6"/>
<line x1="185.30" y1="251.80" x2="186.50" y2="251.80" stroke="#9a9a9a" stroke-width="0.6"/>
<line x1="185.30" y1="274.00" x2="186.50" y2="274.00" stroke="#9a9a9a" stroke-width="0.6"/>
<line x1="209.80" y1="285.10" x2="209.80" y2="287.30" stroke="#9a9a9a" stroke-width="0.6"/>
<text x="209.80" y="294.30" font-size="6.85" fill="#303030" text-anchor="middle" transform="matrix(1 0 0 1.06 0 -17.510)">0.00080</text>
<line x1="248.20" y1="285.10" x2="248.20" y2="287.30" stroke="#9a9a9a" stroke-width="0.6"/>
<text x="248.20" y="294.30" font-size="6.85" fill="#303030" text-anchor="middle" transform="matrix(1 0 0 1.06 0 -17.510)">0.00085</text>
<line x1="286.60" y1="285.10" x2="286.60" y2="287.30" stroke="#9a9a9a" stroke-width="0.6"/>
<text x="286.60" y="294.30" font-size="6.85" fill="#303030" text-anchor="middle" transform="matrix(1 0 0 1.06 0 -17.510)">0.00090</text>
<line x1="325.00" y1="285.10" x2="325.00" y2="287.30" stroke="#9a9a9a" stroke-width="0.6"/>
<text x="325.00" y="294.30" font-size="6.85" fill="#303030" text-anchor="middle" transform="matrix(1 0 0 1.06 0 -17.510)">0.00095</text>
<line x1="190.60" y1="285.10" x2="190.60" y2="286.30" stroke="#9a9a9a" stroke-width="0.6"/>
<line x1="229.00" y1="285.10" x2="229.00" y2="286.30" stroke="#9a9a9a" stroke-width="0.6"/>
<line x1="267.40" y1="285.10" x2="267.40" y2="286.30" stroke="#9a9a9a" stroke-width="0.6"/>
<line x1="305.80" y1="285.10" x2="305.80" y2="286.30" stroke="#9a9a9a" stroke-width="0.6"/>
<text x="256.00" y="302.70" font-size="6.9" fill="#303030" text-anchor="middle" transform="matrix(1 0 0 1.06 0 -18.013)"><tspan dy="-0.00">1/T (K</tspan><tspan dy="-2.90" dx="0.45" font-size="4.55"><tspan font-weight="bold">-</tspan>1</tspan><tspan dy="2.90">)</tspan></text>
<text x="0.00" y="0.00" font-size="6.9" fill="#303030" text-anchor="middle" transform="translate(171.20,229.60) rotate(-90)"><tspan dy="-0.00">ln(k×T) (K×m</tspan><tspan dy="-2.90" font-size="4.55">2</tspan><tspan dy="2.90">s</tspan><tspan dy="-2.90" dx="0.45" font-size="4.55"><tspan font-weight="bold">-</tspan>1</tspan><tspan dy="2.90">)</tspan></text>
<text x="187.4" y="166.3" font-size="15.0" font-weight="bold" fill="#111">d</text>
<path d="M198.63 182.45 L201.48 185.30 L198.63 188.15 L195.78 185.30 Z" fill="#fff" stroke="#1e1e1e" stroke-width="1.0"/>
<path d="M250.05 226.65 L252.90 229.50 L250.05 232.35 L247.20 229.50 Z" fill="#fff" stroke="#1e1e1e" stroke-width="1.0"/>
<path d="M311.05 269.25 L313.90 272.10 L311.05 274.95 L308.20 272.10 Z" fill="#fff" stroke="#1e1e1e" stroke-width="1.0"/>
<line x1="198.63" y1="186.91" x2="311.05" y2="273.48" stroke="#2a2a2a" stroke-width="1.15" stroke-dasharray="3.6 4.55" stroke-dashoffset="0"/>
<text x="243.60" y="209.20" font-size="6.9" fill="#333333" text-anchor="start" transform="matrix(1 0 0 1.06 0 -12.403)"><tspan dy="-0.00">Q</tspan><tspan dy="2.48" font-size="4.55">p</tspan><tspan dy="-2.48">=222.02 kJ·mol</tspan><tspan dy="-2.90" dx="0.45" font-size="4.55"><tspan font-weight="bold">-</tspan>1</tspan></text>
<text x="278.90" y="244.80" font-size="6.9" fill="#333333" text-anchor="start" transform="matrix(1 0 0 1.06 0 -14.539)"><tspan dy="-0.00">R</tspan><tspan dy="-2.90" font-size="4.55">2</tspan><tspan dy="2.90">=0.997</tspan></text>
<linearGradient id="gg" x1="0" y1="0" x2="0" y2="1"><stop offset="0" stop-color="#c1e4e0"/><stop offset="1" stop-color="#a4d9d5"/></linearGradient>
<rect x="370.9" y="173.9" width="138.00" height="111.00" fill="url(#gg)"/>
<line x1="368.70" y1="174.30" x2="370.90" y2="174.30" stroke="#9a9a9a" stroke-width="0.6"/>
<text x="367.90" y="176.77" font-size="6.85" fill="#303030" text-anchor="end" transform="matrix(1 0 0 1.06 0 -10.458)">-49</text>
<line x1="368.70" y1="187.31" x2="370.90" y2="187.31" stroke="#9a9a9a" stroke-width="0.6"/>
<text x="367.90" y="189.78" font-size="6.85" fill="#303030" text-anchor="end" transform="matrix(1 0 0 1.06 0 -11.239)">-50</text>
<line x1="368.70" y1="200.32" x2="370.90" y2="200.32" stroke="#9a9a9a" stroke-width="0.6"/>
<text x="367.90" y="202.79" font-size="6.85" fill="#303030" text-anchor="end" transform="matrix(1 0 0 1.06 0 -12.019)">-51</text>
<line x1="368.70" y1="213.33" x2="370.90" y2="213.33" stroke="#9a9a9a" stroke-width="0.6"/>
<text x="367.90" y="215.80" font-size="6.85" fill="#303030" text-anchor="end" transform="matrix(1 0 0 1.06 0 -12.800)">-52</text>
<line x1="368.70" y1="226.34" x2="370.90" y2="226.34" stroke="#9a9a9a" stroke-width="0.6"/>
<text x="367.90" y="228.81" font-size="6.85" fill="#303030" text-anchor="end" transform="matrix(1 0 0 1.06 0 -13.580)">-53</text>
<line x1="368.70" y1="239.35" x2="370.90" y2="239.35" stroke="#9a9a9a" stroke-width="0.6"/>
<text x="367.90" y="241.82" font-size="6.85" fill="#303030" text-anchor="end" transform="matrix(1 0 0 1.06 0 -14.361)">-54</text>
<line x1="368.70" y1="252.36" x2="370.90" y2="252.36" stroke="#9a9a9a" stroke-width="0.6"/>
<text x="367.90" y="254.83" font-size="6.85" fill="#303030" text-anchor="end" transform="matrix(1 0 0 1.06 0 -15.142)">-55</text>
<line x1="368.70" y1="265.37" x2="370.90" y2="265.37" stroke="#9a9a9a" stroke-width="0.6"/>
<text x="367.90" y="267.84" font-size="6.85" fill="#303030" text-anchor="end" transform="matrix(1 0 0 1.06 0 -15.922)">-56</text>
<line x1="368.70" y1="278.38" x2="370.90" y2="278.38" stroke="#9a9a9a" stroke-width="0.6"/>
<text x="367.90" y="280.85" font-size="6.85" fill="#303030" text-anchor="end" transform="matrix(1 0 0 1.06 0 -16.703)">-57</text>
<line x1="369.70" y1="180.81" x2="370.90" y2="180.81" stroke="#9a9a9a" stroke-width="0.6"/>
<line x1="369.70" y1="193.81" x2="370.90" y2="193.81" stroke="#9a9a9a" stroke-width="0.6"/>
<line x1="369.70" y1="206.83" x2="370.90" y2="206.83" stroke="#9a9a9a" stroke-width="0.6"/>
<line x1="369.70" y1="219.84" x2="370.90" y2="219.84" stroke="#9a9a9a" stroke-width="0.6"/>
<line x1="369.70" y1="232.85" x2="370.90" y2="232.85" stroke="#9a9a9a" stroke-width="0.6"/>
<line x1="369.70" y1="245.86" x2="370.90" y2="245.86" stroke="#9a9a9a" stroke-width="0.6"/>
<line x1="369.70" y1="258.87" x2="370.90" y2="258.87" stroke="#9a9a9a" stroke-width="0.6"/>
<line x1="369.70" y1="271.88" x2="370.90" y2="271.88" stroke="#9a9a9a" stroke-width="0.6"/>
<line x1="394.20" y1="284.90" x2="394.20" y2="287.10" stroke="#9a9a9a" stroke-width="0.6"/>
<text x="394.20" y="294.30" font-size="6.85" fill="#303030" text-anchor="middle" transform="matrix(1 0 0 1.06 0 -17.510)">0.00080</text>
<line x1="432.60" y1="284.90" x2="432.60" y2="287.10" stroke="#9a9a9a" stroke-width="0.6"/>
<text x="432.60" y="294.30" font-size="6.85" fill="#303030" text-anchor="middle" transform="matrix(1 0 0 1.06 0 -17.510)">0.00085</text>
<line x1="471.00" y1="284.90" x2="471.00" y2="287.10" stroke="#9a9a9a" stroke-width="0.6"/>
<text x="471.00" y="294.30" font-size="6.85" fill="#303030" text-anchor="middle" transform="matrix(1 0 0 1.06 0 -17.510)">0.00090</text>
<line x1="509.40" y1="284.90" x2="509.40" y2="287.10" stroke="#9a9a9a" stroke-width="0.6"/>
<text x="509.40" y="294.30" font-size="6.85" fill="#303030" text-anchor="middle" transform="matrix(1 0 0 1.06 0 -17.510)">0.00095</text>
<line x1="375.00" y1="284.90" x2="375.00" y2="286.10" stroke="#9a9a9a" stroke-width="0.6"/>
<line x1="413.40" y1="284.90" x2="413.40" y2="286.10" stroke="#9a9a9a" stroke-width="0.6"/>
<line x1="451.80" y1="284.90" x2="451.80" y2="286.10" stroke="#9a9a9a" stroke-width="0.6"/>
<line x1="490.20" y1="284.90" x2="490.20" y2="286.10" stroke="#9a9a9a" stroke-width="0.6"/>
<text x="439.90" y="302.70" font-size="6.9" fill="#303030" text-anchor="middle" transform="matrix(1 0 0 1.06 0 -18.013)"><tspan dy="-0.00">1/T (K</tspan><tspan dy="-2.90" dx="0.45" font-size="4.55"><tspan font-weight="bold">-</tspan>1</tspan><tspan dy="2.90">)</tspan></text>
<text x="0.00" y="0.00" font-size="6.9" fill="#303030" text-anchor="middle" transform="translate(355.40,229.70) rotate(-90)"><tspan dy="-0.00">ln(k×T) (K×m</tspan><tspan dy="-2.90" font-size="4.55">3</tspan><tspan dy="2.90">s</tspan><tspan dy="-2.90" dx="0.45" font-size="4.55"><tspan font-weight="bold">-</tspan>1</tspan><tspan dy="2.90">)</tspan></text>
<text x="369.5" y="165.8" font-size="15.0" font-weight="bold" fill="#111">g</text>
<path d="M383.03 184.15 L385.88 187.00 L383.03 189.85 L380.18 187.00 Z" fill="#fff" stroke="#1e1e1e" stroke-width="1.0"/>
<path d="M434.45 226.35 L437.30 229.20 L434.45 232.05 L431.60 229.20 Z" fill="#fff" stroke="#1e1e1e" stroke-width="1.0"/>
<path d="M495.45 271.65 L498.30 274.50 L495.45 277.35 L492.60 274.50 Z" fill="#fff" stroke="#1e1e1e" stroke-width="1.0"/>
<line x1="383.03" y1="188.18" x2="495.45" y2="274.75" stroke="#2a2a2a" stroke-width="1.15" stroke-dasharray="3.6 4.55" stroke-dashoffset="0"/>
<text x="431.70" y="209.90" font-size="6.9" fill="#333333" text-anchor="start" transform="matrix(1 0 0 1.06 0 -12.445)"><tspan dy="-0.00">Q</tspan><tspan dy="2.48" font-size="4.55">p</tspan><tspan dy="-2.48">=380.57 kJ·mol</tspan><tspan dy="-2.90" dx="0.45" font-size="4.55"><tspan font-weight="bold">-</tspan>1</tspan></text>
<text x="462.00" y="242.50" font-size="6.9" fill="#333333" text-anchor="start" transform="matrix(1 0 0 1.06 0 -14.401)"><tspan dy="-0.00">R</tspan><tspan dy="-2.90" font-size="4.55">2</tspan><tspan dy="2.90">=0.999</tspan></text>
<linearGradient id="gh" x1="0" y1="0" x2="0" y2="1"><stop offset="0" stop-color="#eff4c8"/><stop offset="1" stop-color="#e2eaa4"/></linearGradient>
<rect x="534.9" y="174.3" width="138.10" height="110.70" fill="url(#gh)"/>
<line x1="532.70" y1="181.50" x2="534.90" y2="181.50" stroke="#9a9a9a" stroke-width="0.6"/>
<text x="531.90" y="183.97" font-size="6.85" fill="#303030" text-anchor="end" transform="matrix(1 0 0 1.06 0 -10.890)">-51</text>
<line x1="532.70" y1="196.00" x2="534.90" y2="196.00" stroke="#9a9a9a" stroke-width="0.6"/>
<text x="531.90" y="198.47" font-size="6.85" fill="#303030" text-anchor="end" transform="matrix(1 0 0 1.06 0 -11.760)">-52</text>
<line x1="532.70" y1="210.50" x2="534.90" y2="210.50" stroke="#9a9a9a" stroke-width="0.6"/>
<text x="531.90" y="212.97" font-size="6.85" fill="#303030" text-anchor="end" transform="matrix(1 0 0 1.06 0 -12.630)">-53</text>
<line x1="532.70" y1="225.00" x2="534.90" y2="225.00" stroke="#9a9a9a" stroke-width="0.6"/>
<text x="531.90" y="227.47" font-size="6.85" fill="#303030" text-anchor="end" transform="matrix(1 0 0 1.06 0 -13.500)">-54</text>
<line x1="532.70" y1="239.50" x2="534.90" y2="239.50" stroke="#9a9a9a" stroke-width="0.6"/>
<text x="531.90" y="241.97" font-size="6.85" fill="#303030" text-anchor="end" transform="matrix(1 0 0 1.06 0 -14.370)">-55</text>
<line x1="532.70" y1="254.00" x2="534.90" y2="254.00" stroke="#9a9a9a" stroke-width="0.6"/>
<text x="531.90" y="256.47" font-size="6.85" fill="#303030" text-anchor="end" transform="matrix(1 0 0 1.06 0 -15.240)">-56</text>
<line x1="532.70" y1="268.50" x2="534.90" y2="268.50" stroke="#9a9a9a" stroke-width="0.6"/>
<text x="531.90" y="270.97" font-size="6.85" fill="#303030" text-anchor="end" transform="matrix(1 0 0 1.06 0 -16.110)">-57</text>
<line x1="532.70" y1="283.00" x2="534.90" y2="283.00" stroke="#9a9a9a" stroke-width="0.6"/>
<text x="531.90" y="285.47" font-size="6.85" fill="#303030" text-anchor="end" transform="matrix(1 0 0 1.06 0 -16.980)">-58</text>
<line x1="533.70" y1="188.75" x2="534.90" y2="188.75" stroke="#9a9a9a" stroke-width="0.6"/>
<line x1="533.70" y1="203.25" x2="534.90" y2="203.25" stroke="#9a9a9a" stroke-width="0.6"/>
<line x1="533.70" y1="217.75" x2="534.90" y2="217.75" stroke="#9a9a9a" stroke-width="0.6"/>
<line x1="533.70" y1="232.25" x2="534.90" y2="232.25" stroke="#9a9a9a" stroke-width="0.6"/>
<line x1="533.70" y1="246.75" x2="534.90" y2="246.75" stroke="#9a9a9a" stroke-width="0.6"/>
<line x1="533.70" y1="261.25" x2="534.90" y2="261.25" stroke="#9a9a9a" stroke-width="0.6"/>
<line x1="533.70" y1="275.75" x2="534.90" y2="275.75" stroke="#9a9a9a" stroke-width="0.6"/>
<line x1="558.20" y1="285.00" x2="558.20" y2="287.20" stroke="#9a9a9a" stroke-width="0.6"/>
<text x="558.20" y="294.30" font-size="6.85" fill="#303030" text-anchor="middle" transform="matrix(1 0 0 1.06 0 -17.510)">0.00080</text>
<line x1="596.60" y1="285.00" x2="596.60" y2="287.20" stroke="#9a9a9a" stroke-width="0.6"/>
<text x="596.60" y="294.30" font-size="6.85" fill="#303030" text-anchor="middle" transform="matrix(1 0 0 1.06 0 -17.510)">0.00085</text>
<line x1="635.00" y1="285.00" x2="635.00" y2="287.20" stroke="#9a9a9a" stroke-width="0.6"/>
<text x="635.00" y="294.30" font-size="6.85" fill="#303030" text-anchor="middle" transform="matrix(1 0 0 1.06 0 -17.510)">0.00090</text>
<line x1="673.40" y1="285.00" x2="673.40" y2="287.20" stroke="#9a9a9a" stroke-width="0.6"/>
<text x="673.40" y="294.30" font-size="6.85" fill="#303030" text-anchor="middle" transform="matrix(1 0 0 1.06 0 -17.510)">0.00095</text>
<line x1="539.00" y1="285.00" x2="539.00" y2="286.20" stroke="#9a9a9a" stroke-width="0.6"/>
<line x1="577.40" y1="285.00" x2="577.40" y2="286.20" stroke="#9a9a9a" stroke-width="0.6"/>
<line x1="615.80" y1="285.00" x2="615.80" y2="286.20" stroke="#9a9a9a" stroke-width="0.6"/>
<line x1="654.20" y1="285.00" x2="654.20" y2="286.20" stroke="#9a9a9a" stroke-width="0.6"/>
<text x="604.00" y="302.70" font-size="6.9" fill="#303030" text-anchor="middle" transform="matrix(1 0 0 1.06 0 -18.013)"><tspan dy="-0.00">1/T (K</tspan><tspan dy="-2.90" dx="0.45" font-size="4.55"><tspan font-weight="bold">-</tspan>1</tspan><tspan dy="2.90">)</tspan></text>
<text x="0.00" y="0.00" font-size="6.9" fill="#303030" text-anchor="middle" transform="translate(520.20,229.70) rotate(-90)"><tspan dy="-0.00">ln(k×T) (K×m</tspan><tspan dy="-2.90" font-size="4.55">3</tspan><tspan dy="2.90">s</tspan><tspan dy="-2.90" dx="0.45" font-size="4.55"><tspan font-weight="bold">-</tspan>1</tspan><tspan dy="2.90">)</tspan></text>
<text x="537.0" y="166.3" font-size="15.0" font-weight="bold" fill="#111">h</text>
<path d="M547.03 182.65 L549.88 185.50 L547.03 188.35 L544.18 185.50 Z" fill="#fff" stroke="#1e1e1e" stroke-width="1.0"/>
<path d="M598.45 225.45 L601.30 228.30 L598.45 231.15 L595.60 228.30 Z" fill="#fff" stroke="#1e1e1e" stroke-width="1.0"/>
<path d="M659.45 268.35 L662.30 271.20 L659.45 274.05 L656.60 271.20 Z" fill="#fff" stroke="#1e1e1e" stroke-width="1.0"/>
<line x1="547.03" y1="186.28" x2="659.45" y2="272.85" stroke="#2a2a2a" stroke-width="1.15" stroke-dasharray="3.6 4.55" stroke-dashoffset="0"/>
<text x="586.80" y="208.70" font-size="6.9" fill="#333333" text-anchor="start" transform="matrix(1 0 0 1.06 0 -12.373)"><tspan dy="-0.00">Q</tspan><tspan dy="2.48" font-size="4.55">p</tspan><tspan dy="-2.48">=328.01 kJ·mol</tspan><tspan dy="-2.90" dx="0.45" font-size="4.55"><tspan font-weight="bold">-</tspan>1</tspan></text>
<text x="626.00" y="241.60" font-size="6.9" fill="#333333" text-anchor="start" transform="matrix(1 0 0 1.06 0 -14.347)"><tspan dy="-0.00">R</tspan><tspan dy="-2.90" font-size="4.55">2</tspan><tspan dy="2.90">=0.997</tspan></text>
<rect x="-3" y="-3" width="342.1" height="4.3" fill="#231f20"/>
<rect x="338" y="0" width="1.1" height="312" fill="#231f20"/>
<rect x="-3" y="307.9" width="342.1" height="5" fill="#231f20"/>
<rect x="346.1" y="-3" width="342" height="4.3" fill="#231f20"/>
<rect x="346.1" y="0" width="1.1" height="312" fill="#231f20"/>
<rect x="346.1" y="307.9" width="342" height="5" fill="#231f20"/>
</svg>
</body></html>
